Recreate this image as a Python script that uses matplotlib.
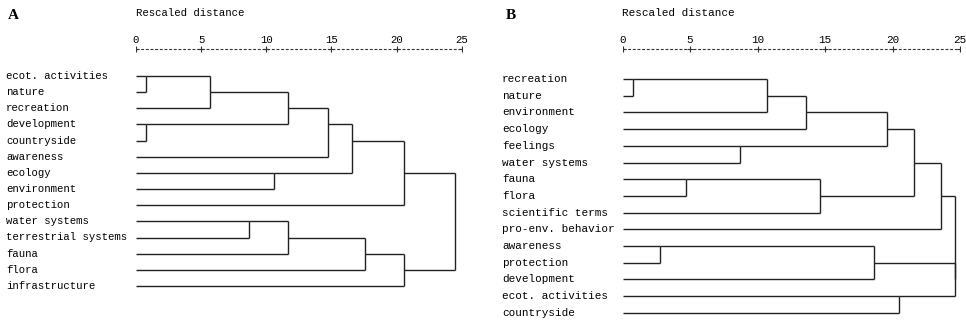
import math
import matplotlib
matplotlib.use("Agg")
import matplotlib.pyplot as plt

# panel A: leaves (top to bottom) and merges (child_a, child_b, rescaled distance)
leaves_a = ["ecot. activities", "nature", "recreation", "development", "countryside",
            "awareness", "ecology", "environment", "protection", "water systems",
            "terrestrial systems", "fauna", "flora", "infrastructure"]
merges_a = [(0, 1, 0.8), (3, 4, 0.8), (14, 2, 5.7), (9, 10, 8.7), (6, 7, 10.6),
            (16, 15, 11.7), (17, 11, 11.7), (19, 5, 14.7), (21, 18, 16.6),
            (20, 12, 17.6), (22, 8, 20.6), (23, 13, 20.6), (24, 25, 24.5)]

# panel B
leaves_b = ["recreation", "nature", "environment", "ecology", "feelings",
            "water systems", "fauna", "flora", "scientific terms",
            "pro-env. behavior", "awareness", "protection", "development",
            "ecot. activities", "countryside"]
merges_b = [(0, 1, 0.8), (10, 11, 2.8), (6, 7, 4.7), (4, 5, 8.7), (15, 2, 10.7),
            (19, 3, 13.6), (17, 8, 14.6), (16, 12, 18.6), (20, 18, 19.6),
            (13, 14, 20.5), (23, 21, 21.6), (25, 9, 23.6), (22, 24, 24.6),
            (26, 27, 24.6)]

ticks = [0, 5, 10, 15, 20, 25]

W, H = 966, 323
fig = plt.figure(figsize=(W / 100, H / 100), dpi=100)
fig.patch.set_facecolor("white")

mono = "Liberation Mono"
line_kw = dict(color="#222222", lw=1.0, solid_capstyle="butt")


def draw_panel(leaves, merges, x0, x25, row0, rowstep, label_x, fsize, letter, letter_x):
    # axes span full figure height, x from x0 px (0) to x25 px (25)
    ax = fig.add_axes([x0 / W, 0, (x25 - x0) / W, 1])
    ax.set_xlim(0, 25)
    top = (0 - row0) / rowstep
    bot = (H - row0) / rowstep
    ax.set_ylim(bot, top)
    ax.axis("off")
    pxu = (x25 - x0) / 25.0

    n = len(leaves)
    pos = {i: i for i in range(n)}
    height = {i: 0.0 for i in range(n)}
    for k, (a, b, d) in enumerate(merges):
        cid = n + k
        for c in (a, b):
            ax.plot([height[c], d], [pos[c], pos[c]], **line_kw)
        ax.plot([d, d], [pos[a], pos[b]], **line_kw)
        pos[cid] = math.floor((pos[a] + pos[b]) / 2)
        height[cid] = d

    for i, name in enumerate(leaves):
        ax.text((label_x - x0) / pxu, i, name, family=mono, fontsize=fsize,
                va="center", ha="left", clip_on=False)

    # scale on top
    y_num = (40 - row0) / rowstep
    y_line = (49 - row0) / rowstep
    y_title = (13 - row0) / rowstep
    ax.plot([0, 25], [y_line, y_line], color="#333333", lw=0.8,
            dashes=(2.6, 1.6))
    ax.plot(ticks, [y_line] * len(ticks), ls="none", marker="+", ms=5,
            mew=0.8, color="#333333")
    for t in ticks:
        ax.text(t, y_num, str(t), family=mono, fontsize=fsize, ha="center",
                va="center")
    ax.text(0, y_title, "Rescaled distance", family=mono, fontsize=fsize,
            ha="left", va="center")
    ax.text((letter_x - x0) / pxu, y_title + 0.15, letter, family="Liberation Serif",
            fontsize=11, fontweight="bold", ha="left", va="center")


draw_panel(leaves_a, merges_a, 136, 461.7, 76, 16.15, 6, 7.7, "A", 8)
draw_panel(leaves_b, merges_b, 622.5, 960, 79, 16.7, 502, 7.9, "B", 506)

fig.savefig("out.png", dpi=100, facecolor="white")
